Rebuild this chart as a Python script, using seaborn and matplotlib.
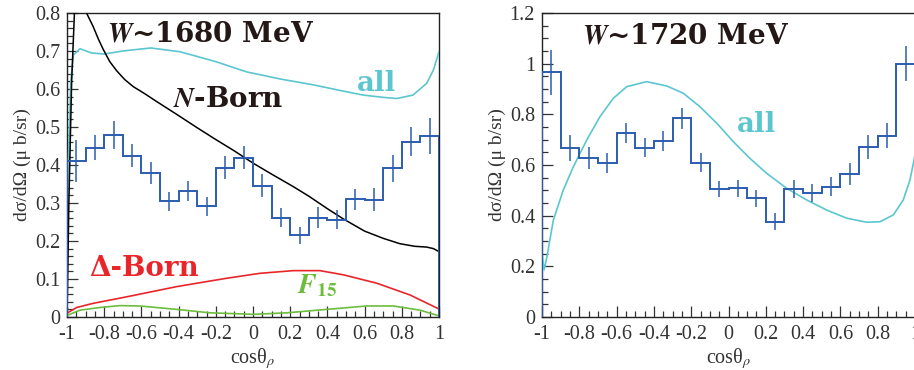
import numpy as np
import pandas as pd
import matplotlib
matplotlib.use("Agg")
import matplotlib.pyplot as plt
from matplotlib.ticker import MultipleLocator, FuncFormatter
import seaborn as sns

# ---- data: histogram bins (cos theta_rho) ----
edges = np.round(np.arange(-1.0, 1.0001, 0.1), 2)
centers = (edges[:-1] + edges[1:]) / 2

# W ~ 1680 MeV
y1680 = [0.410, 0.446, 0.479, 0.425, 0.379, 0.304, 0.332, 0.292, 0.393, 0.419,
         0.346, 0.261, 0.215, 0.261, 0.256, 0.310, 0.309, 0.391, 0.461, 0.476]
e1680 = [0.055, 0.033, 0.037, 0.030, 0.030, 0.025, 0.027, 0.025, 0.030, 0.030,
         0.030, 0.025, 0.022, 0.028, 0.025, 0.028, 0.030, 0.036, 0.038, 0.047]

# W ~ 1720 MeV
y1720 = [0.966, 0.667, 0.628, 0.608, 0.727, 0.669, 0.695, 0.785, 0.609, 0.504,
         0.508, 0.468, 0.376, 0.506, 0.489, 0.514, 0.563, 0.671, 0.715, 1.000]
e1720 = [0.088, 0.050, 0.043, 0.038, 0.040, 0.039, 0.038, 0.041, 0.037, 0.031,
         0.033, 0.032, 0.033, 0.036, 0.037, 0.038, 0.043, 0.048, 0.049, 0.070]

# ---- model curves, W ~ 1680 ----
all1680_x = [-1.0, -0.99, -0.98, -0.965, -0.93, -0.87, -0.8, -0.7, -0.55, -0.392,
             -0.2, -0.034, 0.15, 0.324, 0.46, 0.593, 0.7, 0.773, 0.86, 0.934, 0.97, 1.0]
all1680_y = [0.25, 0.45, 0.62, 0.69, 0.706, 0.695, 0.692, 0.700, 0.708, 0.698,
             0.672, 0.645, 0.626, 0.611, 0.597, 0.584, 0.578, 0.575, 0.584, 0.615, 0.650, 0.698]

nborn_x = [-1.0, -0.99, -0.975, -0.96, -0.945, -0.92, -0.895, -0.86, -0.83, -0.805,
           -0.77, -0.733, -0.69, -0.643, -0.58, -0.518, -0.4, -0.3, -0.2, -0.1,
           0.0, 0.1, 0.217, 0.3, 0.4, 0.486, 0.6, 0.7, 0.789, 0.87, 0.934, 0.97, 1.0]
nborn_y = [0.0, 0.30, 0.62, 0.80, 0.86, 0.86, 0.80, 0.765, 0.73, 0.704,
           0.672, 0.648, 0.625, 0.606, 0.587, 0.567, 0.530, 0.498, 0.467, 0.437,
           0.405, 0.376, 0.343, 0.318, 0.285, 0.258, 0.226, 0.207, 0.193, 0.186, 0.184, 0.180, 0.172]

dborn_x = [-1.0, -0.948, -0.859, -0.68, -0.41, -0.141, 0.038, 0.217, 0.36, 0.486,
           0.665, 0.844, 1.0]
dborn_y = [0.010, 0.025, 0.036, 0.053, 0.080, 0.102, 0.115, 0.122, 0.122, 0.111,
           0.089, 0.058, 0.021]

f15_x = [-1.0, -0.93, -0.823, -0.715, -0.608, -0.41, -0.231, 0.002, 0.181, 0.396,
         0.611, 0.754, 0.898, 1.0]
f15_y = [0.004, 0.018, 0.025, 0.030, 0.029, 0.020, 0.011, 0.007, 0.011, 0.020,
         0.029, 0.029, 0.018, 0.003]

# ---- model curve, W ~ 1720 ----
all1720_x = [-1.0, -0.989, -0.975, -0.939, -0.886, -0.832, -0.76, -0.689, -0.618, -0.546,
             -0.439, -0.331, -0.242, -0.153, -0.063, 0.026, 0.115, 0.205, 0.312, 0.419,
             0.527, 0.634, 0.741, 0.812, 0.884, 0.937, 0.973, 0.995, 1.0]
all1720_y = [0.253, 0.186, 0.232, 0.383, 0.501, 0.593, 0.699, 0.791, 0.863, 0.909,
             0.929, 0.912, 0.883, 0.830, 0.765, 0.692, 0.626, 0.567, 0.508, 0.462,
             0.422, 0.390, 0.374, 0.376, 0.403, 0.462, 0.541, 0.620, 0.640]

blue = "#2b5cb0"
cyan = "#5cc6d0"
red = "#e8262a"
green = "#6cbd3c"
dark = "#231815"

sns.set_style("ticks")
plt.rcParams["font.family"] = ["Liberation Serif", "DejaVu Serif"]
plt.rcParams["mathtext.fontset"] = "stix"
plt.rcParams["axes.unicode_minus"] = False

fig = plt.figure(figsize=(9.14, 3.70), dpi=100)
ax1 = fig.add_axes([67 / 914, 53 / 370, 372 / 914, 304 / 370])
ax2 = fig.add_axes([542 / 914, 53 / 370, 373 / 914, 304 / 370])

fmt = FuncFormatter(lambda v, _: "%g" % (round(v, 2) + 0.0))


def draw_hist(ax, vals, errs):
    ax.stairs(vals, edges, baseline=0, color=blue, lw=1.4, zorder=4)
    ax.errorbar(centers, vals, yerr=errs, fmt="none", ecolor=blue, elinewidth=1.1,
                capsize=0, zorder=4)


def draw_curve(ax, x, y, color, lw=1.0):
    df = pd.DataFrame({"x": x, "y": y})
    sns.lineplot(data=df, x="x", y="y", ax=ax, color=color, lw=lw, sort=False,
                 estimator=None, zorder=3)


def style_axes(ax, ymax, ymajor, yminor):
    ax.set_xlim(-1, 1)
    ax.set_ylim(0, ymax)
    ax.xaxis.set_major_locator(MultipleLocator(0.2))
    ax.xaxis.set_minor_locator(MultipleLocator(0.05))
    ax.yaxis.set_major_locator(MultipleLocator(ymajor))
    ax.yaxis.set_minor_locator(MultipleLocator(yminor))
    ax.xaxis.set_major_formatter(fmt)
    ax.yaxis.set_major_formatter(fmt)
    ax.tick_params(which="both", direction="in", top=False, right=False,
                   labelsize=14.5, colors="#333333", width=0.9)
    ax.tick_params(which="major", length=8, pad=5)
    ax.tick_params(which="minor", length=4)
    ax.tick_params(axis="x", which="major", pad=6)
    for s in ax.spines.values():
        s.set_visible(True)
        s.set_linewidth(1.0)
        s.set_color("#222222")
    ax.set_xlabel("cosθ$_\\rho$", fontsize=14.5, labelpad=1, color="#333333")
    ax.set_ylabel("dσ/dΩ (μ b/sr)", fontsize=14, labelpad=3, color="#333333")


# left panel
draw_curve(ax1, all1680_x, all1680_y, cyan, 1.2)
draw_curve(ax1, nborn_x, nborn_y, "black", 1.1)
draw_curve(ax1, dborn_x, dborn_y, red, 1.2)
draw_curve(ax1, f15_x, f15_y, green, 1.2)
draw_hist(ax1, y1680, e1680)
style_axes(ax1, 0.8, 0.1, 0.02)

lab = dict(fontsize=20, fontweight="bold", family=["DejaVu Serif"])
ax1.text(-0.785, 0.724, "$\\boldsymbol{W}$~1680 MeV", color=dark, **lab)
ax1.text(-0.43, 0.553, "$\\boldsymbol{N}$-Born", color=dark, **lab)
ax1.text(0.56, 0.596, "all", color=cyan, **lab)
ax1.text(-0.88, 0.108, "Δ-Born", color=red, **lab)
ax1.text(0.237, 0.063, "$\\boldsymbol{F}_{\\mathbf{15}}$", color=green, fontsize=20)

# right panel
draw_curve(ax2, all1720_x, all1720_y, cyan, 1.2)
draw_hist(ax2, y1720, e1720)
style_axes(ax2, 1.2, 0.2, 0.05)
ax2.text(-0.787, 1.08, "$\\boldsymbol{W}$~1720 MeV", color=dark, **lab)
ax2.text(0.044, 0.731, "all", color=cyan, **lab)

fig.savefig("out.png", dpi=100)
